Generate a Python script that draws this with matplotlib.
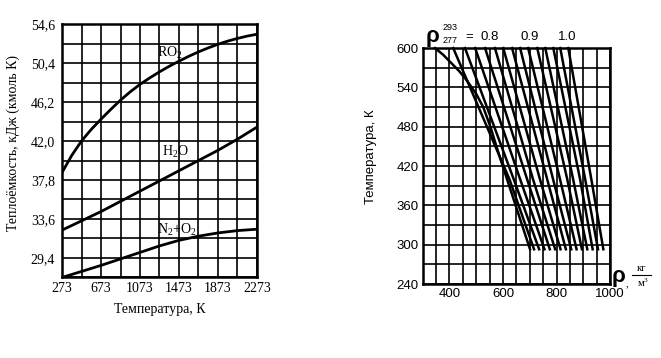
import numpy as np
import matplotlib
matplotlib.use('Agg')
from matplotlib import pyplot as plt

plt.rcParams['mathtext.fontset'] = 'custom'
plt.rcParams['mathtext.rm'] = 'Liberation Serif'
plt.rcParams['mathtext.it'] = 'Liberation Serif'

SERIF = 'Liberation Serif'
SANS = 'Liberation Sans'

#%% left chart: heat capacity vs temperature
temp_RO2 = [273, 373, 473, 573, 673, 773, 873, 973, 1073, 1173, 1273,
            1373, 1473, 1573, 1673, 1773, 1873, 1973, 2073, 2173, 2273]
cp_RO2 = [38.60, 40.45, 42.00, 43.25, 44.35, 45.40, 46.40, 47.30, 48.10, 48.80,
          49.45, 50.05, 50.60, 51.12, 51.60, 52.03, 52.42, 52.76, 53.05, 53.30,
          53.50]
temperature = [273, 473, 673, 873, 1073, 1273, 1473, 1673, 1873, 2073, 2273]
cp_H2O = [32.4, 33.4, 34.4, 35.5, 36.6, 37.7, 38.8, 39.9, 41.0, 42.2, 43.5]
cp_N2O2 = [27.3, 27.95, 28.6, 29.3, 30.0, 30.7, 31.3, 31.75, 32.1, 32.35, 32.5]
cp_ticks = [29.4, 33.6, 37.8, 42.0, 46.2, 50.4, 54.6]
cp_labels = ['29,4', '33,6', '37,8', '42,0', '46,2', '50,4', '54,6']
t_ticks = [273, 673, 1073, 1473, 1873, 2273]

#%% right chart: density of oil products vs temperature
T_levels = [293, 400, 600]
rho_293 = [701, 716, 735, 755, 775, 795, 815, 835, 855, 875, 895, 915, 935, 955, 975]
rho_400 = [615, 624, 640, 664, 690, 712, 738, 765, 787, 813, 840, 862, 888, 907, 930]
rho_600 = [346, 414, 458, 496, 533, 570, 601, 634, 664, 694, 728, 758, 788, 814, 844]
# the lightest product bends near the top
bend_T = [440, 480, 510, 530, 550, 565, 580, 590]
bend_rho = [583, 553, 526, 500, 466, 436, 400, 376]
rel_labels = ['0.8', '0.9', '1.0']
rel_pos = [552, 701, 840]
rho_ticks = [400, 600, 800, 1000]
T_ticks = [240, 300, 360, 420, 480, 540, 600]

fig = plt.figure(figsize=(6.61, 3.58), dpi=100)

#==============================================================================
# left
#==============================================================================
ax1 = fig.add_axes([0.0938, 0.2249, 0.295, 0.708])
ax1.set_xlim(273, 2273)
ax1.set_ylim(27.3, 54.6)
for x in np.arange(273, 2274, 200):
    ax1.axvline(x, color='black', lw=1.2, zorder=1)
for y in np.arange(27.3, 54.7, 2.1):
    ax1.axhline(y, color='black', lw=1.2, zorder=1)

ax1.plot(temp_RO2, cp_RO2, color='black', lw=2.0, zorder=3, solid_joinstyle='round')
for cp in (cp_H2O, cp_N2O2):
    ax1.plot(temperature, cp, color='black', lw=2.0, zorder=3,
             solid_joinstyle='round')

ax1.text(1381, 51.5, 'RO$_2$', fontsize=10, family=SERIF, ha='center', va='center',
         zorder=4)
ax1.text(1432, 40.8, 'H$_2$O', fontsize=10, family=SERIF, ha='center', va='center',
         zorder=4)
ax1.text(1453, 32.4, 'N$_2$+O$_2$', fontsize=10, family=SERIF, ha='center',
         va='center', zorder=4)

ax1.set_xticks(t_ticks)
ax1.set_xticklabels([str(t) for t in t_ticks], family=SERIF, fontsize=10)
ax1.set_yticks(cp_ticks)
ax1.set_yticklabels(cp_labels, family=SERIF, fontsize=10)
ax1.tick_params(length=0, pad=3)
ax1.tick_params(axis='y', pad=5)
for s in ax1.spines.values():
    s.set_linewidth(1.8)
fig.text(160 / 661, 1 - 310 / 358, 'Температура, К', family=SERIF, fontsize=10,
         ha='center', va='center')
fig.text(13 / 661, 1 - 143 / 358, 'Теплоёмкость, кДж (кмоль К)', family=SERIF,
         fontsize=10, rotation=90, ha='center', va='center')

#==============================================================================
# right
#==============================================================================
ax2 = fig.add_axes([0.6395, 0.2067, 0.2834, 0.659])
ax2.set_xlim(300, 1000)
ax2.set_ylim(240, 600)
for x in np.arange(300, 1001, 50):
    ax2.axvline(x, color='black', lw=1.2, zorder=1)
for y in np.arange(240, 601, 30):
    ax2.axhline(y, color='black', lw=1.2, zorder=1)

for i in range(len(rho_293)):
    ts = list(T_levels)
    rs = [rho_293[i], rho_400[i], rho_600[i]]
    if i == 0:
        ts = T_levels[:2] + bend_T + T_levels[2:]
        rs = rs[:2] + bend_rho + rs[2:]
    ax2.plot(rs, ts, color='black', lw=1.8, zorder=3, clip_on=False,
             solid_joinstyle='round')

ax2.set_xticks(rho_ticks)
ax2.set_xticklabels([str(r) for r in rho_ticks], family=SANS, fontsize=9.5)
ax2.set_yticks(T_ticks)
ax2.set_yticklabels([str(t) for t in T_ticks], family=SANS, fontsize=9.5)
ax2.tick_params(length=0, pad=3)
for s in ax2.spines.values():
    s.set_linewidth(1.8)

# relative density labels above the plot
ax2.text(338, 617, 'ρ', fontsize=16, fontweight='bold', family=SANS, ha='center',
         va='center', clip_on=False)
ax2.text(402, 631, '293', fontsize=6.5, family=SANS, ha='center', va='center')
ax2.text(402, 611, '277', fontsize=6.5, family=SANS, ha='center', va='center')
ax2.text(473, 617, '=', fontsize=9.5, family=SANS, ha='center', va='center')
for lab, x in zip(rel_labels, rel_pos):
    ax2.text(x, 617, lab, fontsize=9.5, family=SANS, ha='center', va='center')

# units at the x axis end
ax2.text(1030, 252, 'ρ', fontsize=16, fontweight='bold', family=SANS,
         ha='center', va='center')
ax2.text(1118, 264, 'кг', fontsize=7.5, family=SERIF, ha='center', va='center')
ax2.plot([1083, 1154], [254, 254], color='black', lw=0.8, clip_on=False)
ax2.text(1064, 241, ',', fontsize=7.5, family=SERIF, ha='center', va='center')
ax2.text(1123, 242, 'м$^3$', fontsize=7.5, family=SERIF, ha='center', va='center')

fig.text(371 / 661, 1 - 157 / 358, 'Температура, К', family=SANS, fontsize=9.5,
         rotation=90, ha='center', va='center')

fig.savefig('out.png', dpi=100)
